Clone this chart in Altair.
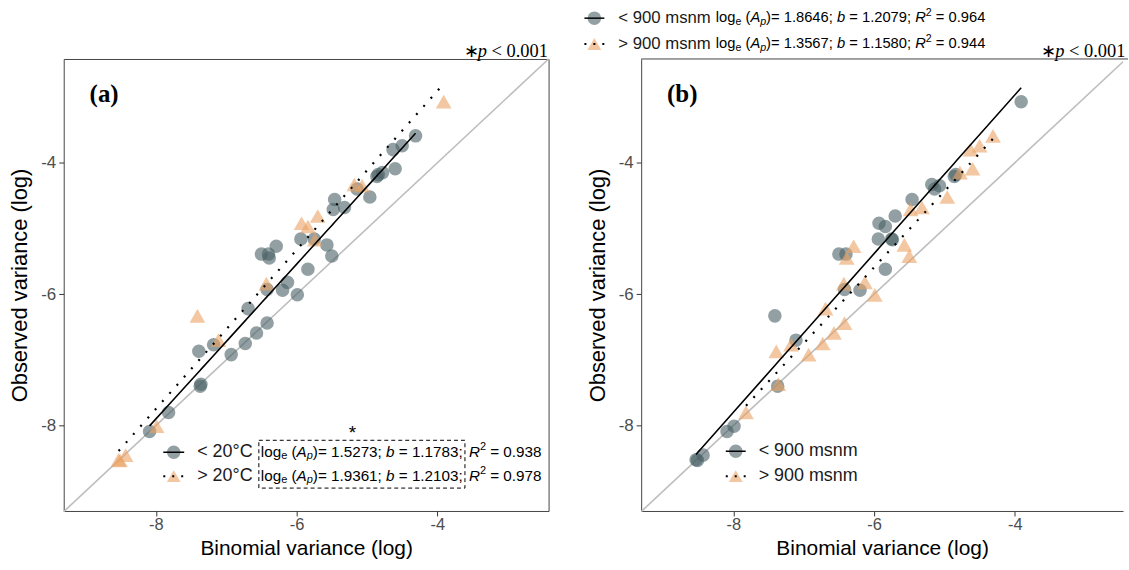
import altair as alt
import pandas as pd

# ---------------- data ----------------
x_binom = [-8.53, -8.51, -8.43, -8.09, -7.99, -7.82, -7.37, -7.36, -7.39, -7.18,
           -7.11, -7.41, -6.93, -6.73, -6.69, -6.57, -6.42, -6.50, -6.40, -6.39,
           -6.29, -6.42, -6.43, -6.20, -6.13, -5.99, -5.84, -5.94, -5.75, -5.74,
           -5.57, -5.50, -5.46, -5.48, -5.32, -5.14, -4.96, -4.86, -4.78, -4.60,
           -4.63, -4.50, -4.31, -3.91, -5.18, -5.07, -5.93, -5.84, -5.70, -4.84]
y_obs = [-8.52, -8.53, -8.45, -8.09, -8.01, -7.80, -7.40, -7.37, -6.87, -6.77,
         -6.70, -6.33, -6.92, -6.75, -6.22, -6.59, -6.44, -5.39, -5.39, -5.45,
         -5.27, -5.93, -5.84, -5.94, -5.82, -6.01, -5.62, -5.16, -5.16, -5.17,
         -5.25, -5.42, -4.56, -4.71, -4.68, -4.40, -4.52, -4.21, -4.15, -4.09,
         -3.80, -3.74, -3.59, -3.07, -4.33, -4.35, -4.92, -4.97, -4.81, -4.18]
temp_group = ['>20', '>20', '>20', '<20', '>20', '<20', '<20', '<20', '<20', '<20',
              '>20', '>20', '<20', '<20', '<20', '<20', '<20', '<20', '<20', '<20',
              '<20', '<20', '>20', '<20', '<20', '<20', '<20', '<20', '<20', '>20',
              '<20', '<20', '<20', '<20', '<20', '<20', '<20', '<20', '<20', '<20',
              '<20', '<20', '<20', '>20', '>20', '>20', '>20', '>20', '>20', '<20']
elev_group = ['<900', '<900', '<900', '<900', '<900', '>900', '<900', '>900', '>900', '>900',
              '<900', '<900', '>900', '>900', '>900', '>900', '>900', '<900', '<900', '>900',
              '>900', '<900', '>900', '<900', '>900', '>900', '<900', '<900', '<900', '<900',
              '>900', '>900', '<900', '>900', '>900', '<900', '>900', '<900', '>900', '>900',
              '>900', '>900', '>900', '<900', '<900', '<900', '<900', '<900', '<900', '<900']

# fitted coefficients: log_e(A_p), b, R^2
temp_coefs = {'<20': (1.5273, 1.1783, 0.938), '>20': (1.9361, 1.2103, 0.978)}
elev_coefs = {'<900': (1.8646, 1.2079, 0.964), '>900': (1.3567, 1.1580, 0.944)}

axis_ticks = [-8, -6, -4]
XD_A = [-9.31, -2.42]
XD_B = [-9.31, -2.4624]
YD = [-9.30, -2.42]

df = pd.DataFrame({'x': x_binom, 'y': y_obs, 'temp': temp_group, 'elev': elev_group})
ONE = pd.DataFrame({'k': [0]})

GREY = '#4a6066'
ORANGE = '#e9a263'
BORDER = '#444444'
SANS = 'Liberation Sans'
SERIF = 'Liberation Serif'

W_SANS = {' ': 278, '(': 333, ')': 333, '=': 584, ';': 278, '.': 278, 'l': 222, 'o': 556,
          'g': 556, 'e': 556, 'A': 667, 'p': 556, 'b': 556, 'R': 722, '<': 584, '>': 584}
W_SERIF = {'\u2217': 500, ' ': 250, 'p': 500, '<': 564, '.': 250}


def rich(segs, x0, y, size, font, metrics, digit_w, color='black'):
    layers = []
    x = x0
    for txt, st in segs:
        small = st in ('sub', 'sup', 'itsub')
        fs = size * 0.72 if small else size
        dy = 0.28 * size if st in ('sub', 'itsub') else (-0.33 * size if st == 'sup' else 0)
        style = 'italic' if st in ('it', 'itsub') else 'normal'
        def w(s):
            return sum(metrics.get(c, digit_w) for c in s) * fs / 1000
        lead = txt[:len(txt) - len(txt.lstrip())]
        body = txt.strip()
        if body:
            layers.append(alt.Chart(ONE).mark_text(
                text=body, align='left', baseline='middle', font=font, fontSize=fs,
                fontStyle=style, color=color).encode(x=alt.value(x + w(lead)), y=alt.value(y + dy)))
        x += w(txt)
    return layers, x


def eq_segs(a, b):
    return [('log', 'n'), ('e', 'sub'), (' (', 'n'), ('A', 'it'), ('p', 'itsub'), (')', 'n'),
            ('= %.4f; ' % a, 'n'), ('b', 'it'), (' = %.4f;' % b, 'n')]


def r2_segs(r2):
    return [('R', 'it'), ('2', 'sup'), (' = %.3f' % r2, 'n')]


def legend_glyph(x0, x1, y, shape, color, size, dotted):
    xc = (x0 + x1) / 2
    pt = alt.Chart(ONE).mark_point(shape=shape, filled=True, color=color, opacity=0.6,
                                   size=size, strokeWidth=0).encode(x=alt.value(xc), y=alt.value(y))
    kw = dict(color='black', strokeWidth=1.5)
    if dotted:
        kw = dict(color='black', strokeWidth=2, strokeDash=[2, 7])
    ln = alt.Chart(ONE).mark_rule(**kw).encode(x=alt.value(x0), x2=alt.value(x1), y=alt.value(y))
    return [pt, ln]


def label(txt, x, y, size, color='#1a1a1a'):
    return alt.Chart(ONE).mark_text(text=txt, align='left', baseline='middle', font=SANS,
                                    fontSize=size, color=color).encode(x=alt.value(x), y=alt.value(y))


def panel(col, groups, coefs, xd, width, letter, top_legend, labels, box):
    xax = alt.Axis(values=axis_ticks, title='Binomial variance (log)', grid=False,
                   domain=not box, domainColor=BORDER, tickColor='#333333', tickSize=5,
                   labelFontSize=16.5, labelColor='#4d4d4d', labelFont=SANS, labelPadding=1,
                   labelExpr="'' + datum.value",
                   titleFontSize=21, titleFont=SANS, titleFontWeight='normal', titleColor='black',
                   titlePadding=4)
    yax = alt.Axis(values=axis_ticks, title='Observed variance (log)', grid=False,
                   domain=not box, domainColor=BORDER, tickColor='#333333', tickSize=5,
                   labelFontSize=17, labelColor='#4d4d4d', labelFont=SANS, labelPadding=3,
                   labelExpr="'' + datum.value",
                   titleFontSize=22, titleFont=SANS, titleFontWeight='normal', titleColor='black',
                   titlePadding=9)
    X = alt.X('x:Q', scale=alt.Scale(domain=xd, nice=False, zero=False), axis=xax)
    Y = alt.Y('y:Q', scale=alt.Scale(domain=YD, nice=False, zero=False), axis=yax)

    ident = pd.DataFrame({'x': xd, 'y': xd})
    layers = [alt.Chart(ident).mark_line(color='#bdbdbd', strokeWidth=1.6).encode(x=X, y=Y)]

    lo, hi = groups
    layers.append(alt.Chart(df).transform_filter(alt.datum[col] == lo).mark_point(
        shape='circle', filled=True, color=GREY, opacity=0.6, size=185, strokeWidth=0).encode(x=X, y=Y))
    layers.append(alt.Chart(df).transform_filter(alt.datum[col] == hi).mark_point(
        shape='triangle-up', filled=True, color=ORANGE, opacity=0.6, size=250, strokeWidth=0).encode(x=X, y=Y))

    for g, dotted in ((lo, False), (hi, True)):
        a, b, _ = coefs[g]
        xs = sorted(df.loc[df[col] == g, 'x'].unique())
        fit = pd.DataFrame({'x': xs, 'y': [a + b * v for v in xs]})
        kw = dict(color='black', strokeWidth=1.6)
        if dotted:
            kw = dict(color='black', strokeWidth=2.2, strokeDash=[2, 9])
        layers.append(alt.Chart(fit).mark_line(**kw).encode(x=X, y=Y))

    # panel letter
    layers.append(alt.Chart(ONE).mark_text(text=letter, align='left', baseline='middle', font=SERIF,
                                           fontSize=25, fontWeight='bold', color='black')
                  .encode(x=alt.value(26), y=alt.value(35)))
    # significance note
    segs = [('\u2217', 'n'), (' p', 'it'), (' < 0.001', 'n')]
    lyr, _ = rich(segs, 402, -8, 18.5, SERIF, W_SERIF, 500)
    layers += lyr

    # in-plot legend
    (lx0, lx1, r1, r2, labx, labsize) = labels
    layers += legend_glyph(lx0, lx1, r1, 'circle', GREY, 185, False)
    layers += legend_glyph(lx0, lx1, r2, 'triangle-up', ORANGE, 190, True)
    layers.append(label(legend_text[lo], labx, r1, labsize))
    layers.append(label(legend_text[hi], labx, r2, labsize))

    if box:
        for g, yy in ((lo, r1), (hi, r2)):
            a, b, r = coefs[g]
            lyr, _ = rich(eq_segs(a, b), 198, yy, 15.3, SANS, W_SANS, 556)
            layers += lyr
            lyr, _ = rich(r2_segs(r), 407, yy, 15.3, SANS, W_SANS, 556)
            layers += lyr
        layers.append(alt.Chart(ONE).mark_rect(fill='white', fillOpacity=0, stroke='black', strokeWidth=1,
                                               strokeDash=[4, 3])
                      .encode(x=alt.value(196), x2=alt.value(403), y=alt.value(383), y2=alt.value(431)))
        layers.append(alt.Chart(ONE).mark_text(text='*', align='center', baseline='middle', font=SANS,
                                               fontSize=19, color='black')
                      .encode(x=alt.value(290), y=alt.value(376)))
    if top_legend:
        t1, t2 = -41, -15
        layers += legend_glyph(-57, -37, t1, 'circle', GREY, 185, False)
        layers += legend_glyph(-57, -37, t2, 'triangle-up', ORANGE, 190, True)
        layers.append(label(legend_text[lo], -23, t1, 16.8))
        layers.append(label(legend_text[hi], -23, t2, 16.8))
        for g, yy in ((lo, t1), (hi, t2)):
            a, b, r = coefs[g]
            lyr, xe = rich(eq_segs(a, b) + [(' ', 'n')] + r2_segs(r), 75, yy, 14.8, SANS, W_SANS, 556)
            layers += lyr
        # top border (right edge of this panel falls outside the picture)
        layers.append(alt.Chart(ONE).mark_rule(color=BORDER, strokeWidth=1)
                      .encode(x=alt.value(0), x2=alt.value(width + 5), y=alt.value(0)))

    view = alt.ViewBackground(stroke=BORDER, strokeWidth=1) if box else alt.ViewBackground(stroke='transparent')
    return alt.layer(*layers).properties(width=width, height=454, view=view)


legend_text = {'<20': '< 20°C', '>20': '> 20°C', '<900': '< 900 msnm', '>900': '> 900 msnm'}

pa = panel('temp', ('<20', '>20'), temp_coefs, XD_A, 487, '(a)', False,
           (100, 121, 395, 419, 134, 18), True)
pb = panel('elev', ('<900', '>900'), elev_coefs, XD_B, 484, '(b)', True,
           (85, 105, 394, 419, 118, 18), False)

chart = alt.hconcat(pa, pb, spacing=93, bounds='flush').properties(
    padding={'left': 8, 'top': 5, 'right': 0, 'bottom': 0},
    background='white'
)

chart.save('out.html', embed_options={'renderer': 'svg', 'actions': False})
